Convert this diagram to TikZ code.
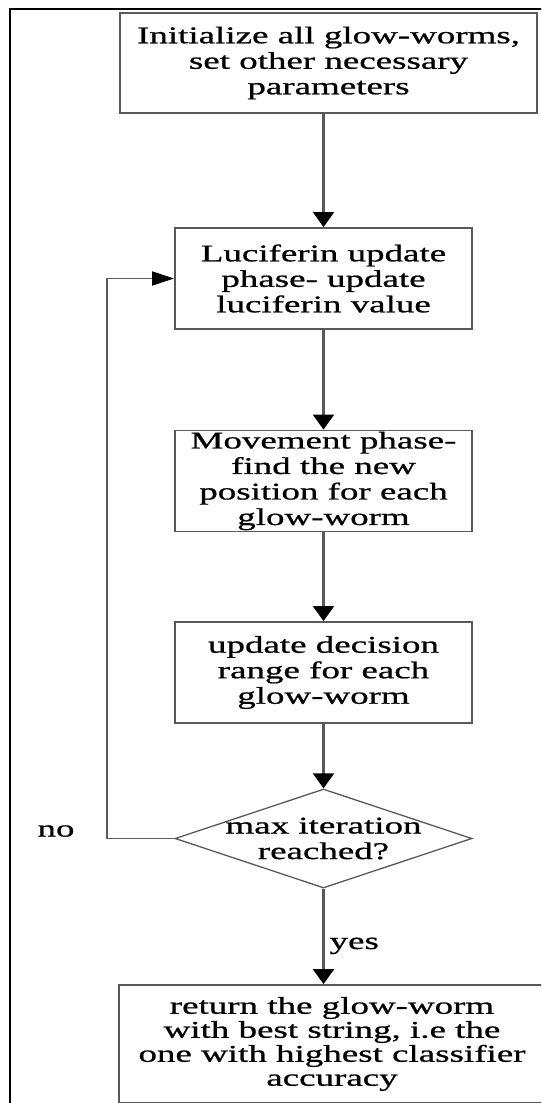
\documentclass[tikz,border=0pt]{standalone}
\usepackage{fontspec}
\setmainfont{Liberation Serif}[FakeStretch=1.54, FakeBold=0.8]
\usetikzlibrary{shapes.geometric,arrows.meta}

\tikzset{
  stepbox/.style={draw=black!65, line width=1.8pt, align=center, inner sep=0pt,
                  minimum width=297pt, minimum height=101pt},
  decision/.style={diamond, draw=black!65, line width=1.3pt, inner sep=0pt,
                   minimum width=297pt, minimum height=99pt},
  flow/.style={draw=black!65, line width=2.2pt, -{Triangle[width=21pt,length=15pt,color=black]}},
  back/.style={draw=black!65, line width=1.6pt, -{Triangle[width=14pt,length=22pt,color=black]}},
  lbl/.style={inner sep=0pt}
}

\begin{document}
\begin{tikzpicture}[x=1pt, y=-1pt, font=\fontsize{24}{25.5}\selectfont]
  \useasboundingbox (0,0) rectangle (541,1103);
  \clip (0,0) rectangle (541,1103);
  % frame
  \draw[black, line width=1.2pt] (10,9) rectangle (600,1200);

  % boxes
  \node[stepbox, minimum width=417pt, minimum height=100pt] (init) at (328.5,63)
    {Initialize all glow-worms,\\ set other necessary\\ parameters};
  \node[stepbox] (lucif) at (323.5,278.5) {Luciferin update\\ phase- update\\ luciferin value};
  \node[stepbox] (move) at (323.5,481) {Movement phase-\\ find the new\\ position for each\\ glow-worm};
  \node[stepbox] (range) at (323.5,672.5) {update decision\\ range for each\\ glow-worm};
  \node[decision] (check) at (323.5,838.5) {};
  \node[lbl, align=center] (checktext) at (check) {max iteration\\ reached?};
  \node[stepbox, minimum width=426pt, minimum height=118pt,
        font=\fontsize{24}{24}\selectfont] (result) at (332,1044)
    {return the glow-worm\\ with best string, i.e the\\ one with highest classifier\\ accuracy};

  % arrows
  \draw[flow] (init.south -| lucif.north) -- (lucif.north);
  \draw[flow] (lucif) -- (move);
  \draw[flow] (move) -- (range);
  \draw[flow] (range) -- (check);
  \draw[flow] (check.south) -- (check.south |- result.north)
    node[lbl, pos=0.6, right=5pt] (yes) {yes};
  % loop back
  \coordinate (loopx) at (107,0);
  \draw[back] (check.west) -- (check.west -| loopx) |- (lucif.west);
  \node[lbl] (no) at (56,831) {no};
\end{tikzpicture}
\end{document}
